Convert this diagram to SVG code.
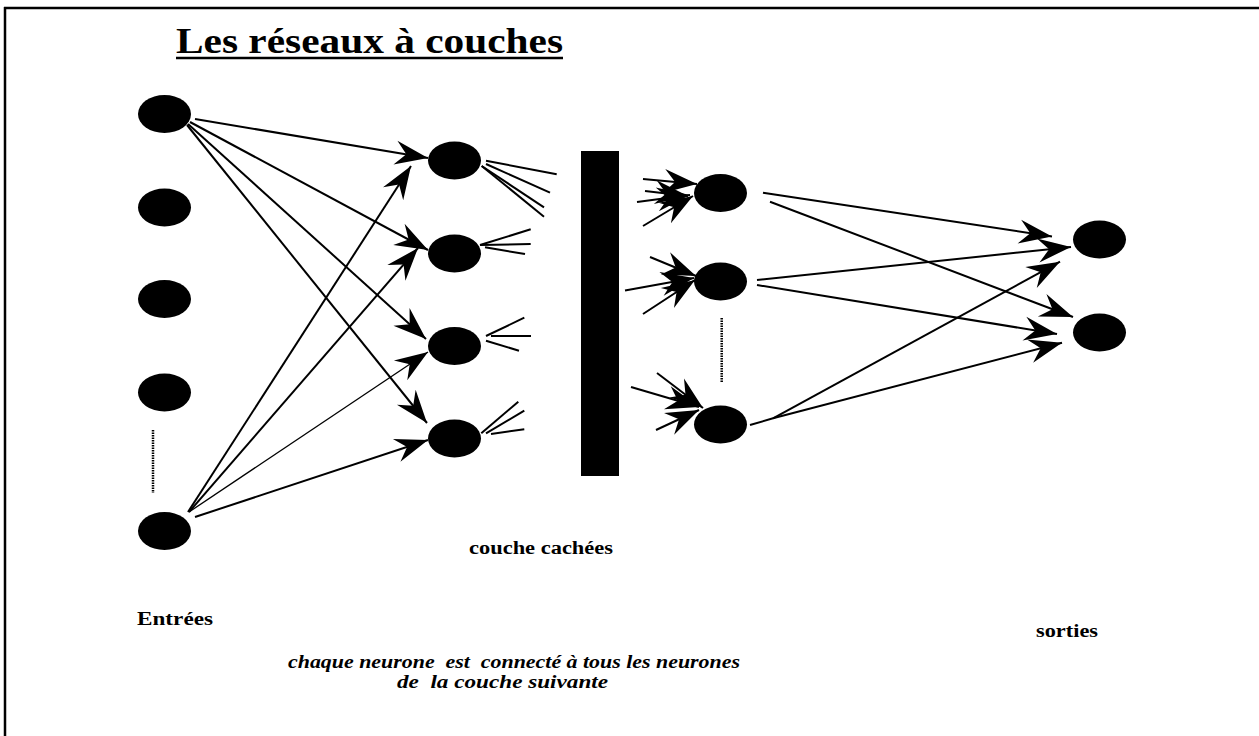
<svg xmlns="http://www.w3.org/2000/svg" width="1259" height="736" viewBox="0 0 1259 736">
<style>
.n{fill:#000}
.c{stroke:#000;stroke-width:2;fill:none}
.t{stroke-width:1.3}
.a{marker-end:url(#ah)}
.dot{stroke:#000;stroke-width:2.5;stroke-dasharray:1.5 1;fill:none}
.lbl{font-family:"Liberation Serif","Times New Roman",serif;font-weight:bold;fill:#000}
.it{font-style:italic}
</style>
<defs>
<marker id="ah" viewBox="-36 -14 38 28" refX="0" refY="0" markerWidth="38" markerHeight="28" markerUnits="userSpaceOnUse" orient="auto">
<path d="M0,0 L-33,-12 L-22,0 L-33,12 Z" fill="#000"/>
</marker>
</defs>
<rect width="1259" height="736" fill="#fff"/>
<g id="frame">
<line x1="4" y1="8" x2="1259" y2="8" stroke="#000" stroke-width="2.5"/>
<line x1="5" y1="7" x2="5" y2="736" stroke="#000" stroke-width="2.5"/>
</g>
<g id="title">
<text class="lbl" x="176" y="53" font-size="36" textLength="387" lengthAdjust="spacingAndGlyphs">Les réseaux à couches</text>
<line x1="176" y1="58" x2="563" y2="58" stroke="#000" stroke-width="2.5"/>
</g>
<g id="connectors">
<line class="c a" x1="195" y1="119" x2="428" y2="158"/>
<line class="c a" x1="190" y1="122" x2="428" y2="250"/>
<line class="c a" x1="188" y1="124" x2="426" y2="339"/>
<line class="c a" x1="187" y1="125" x2="427" y2="423"/>
<line class="c a" x1="188" y1="512" x2="411" y2="166"/>
<line class="c a" x1="189" y1="512" x2="418" y2="248"/>
<line class="c t a" x1="189" y1="512" x2="428" y2="352"/>
<line class="c a" x1="195" y1="517" x2="428" y2="440"/>
<line class="c" x1="486" y1="160.7" x2="556.7" y2="174.3"/>
<line class="c" x1="486" y1="164" x2="550" y2="192.7"/>
<line class="c" x1="481.7" y1="166" x2="544" y2="207.3"/>
<line class="c" x1="481.7" y1="166" x2="544" y2="216.7"/>
<line class="c" x1="480" y1="245" x2="530.7" y2="229.3"/>
<line class="c" x1="480" y1="245" x2="530.7" y2="244"/>
<line class="c" x1="485" y1="247.3" x2="525" y2="254"/>
<line class="c" x1="486" y1="336" x2="524.3" y2="317.7"/>
<line class="c" x1="491" y1="336" x2="531" y2="336"/>
<line class="c" x1="486" y1="340.7" x2="519" y2="350.7"/>
<line class="c" x1="481.3" y1="433.3" x2="518.3" y2="401.7"/>
<line class="c" x1="486" y1="433.3" x2="524.3" y2="410.7"/>
<line class="c" x1="491" y1="434" x2="524.3" y2="429.3"/>
<line class="c a" x1="643" y1="179" x2="697" y2="184"/>
<line class="c a" x1="645" y1="191" x2="688" y2="196"/>
<line class="c a" x1="637" y1="202" x2="690" y2="195"/>
<line class="c a" x1="643" y1="226" x2="693" y2="196"/>
<line class="c a" x1="650" y1="257" x2="696" y2="276"/>
<line class="c a" x1="625" y1="290.5" x2="694" y2="278"/>
<line class="c a" x1="643" y1="314" x2="695" y2="280"/>
<line class="c a" x1="657" y1="373" x2="703" y2="408"/>
<line class="c a" x1="631" y1="387" x2="699" y2="407"/>
<line class="c a" x1="656" y1="430" x2="699" y2="410"/>
<line class="c a" x1="763" y1="192.7" x2="1052" y2="236.5"/>
<line class="c a" x1="770" y1="201.7" x2="1073" y2="317"/>
<line class="c a" x1="757" y1="280" x2="1071" y2="247"/>
<line class="c a" x1="757" y1="285" x2="1057" y2="334"/>
<polyline class="c" points="750,425 773,418.3"/>
<line class="c a" x1="773" y1="418.3" x2="1060" y2="261.7"/>
<line class="c a" x1="773" y1="418.3" x2="1062" y2="342.7"/>
</g>
<g id="inputs">
<ellipse id="in1" class="n" cx="164.5" cy="114" rx="26.5" ry="19"/>
<ellipse id="in2" class="n" cx="164.5" cy="207.5" rx="26.5" ry="19"/>
<ellipse id="in3" class="n" cx="164.5" cy="299" rx="26.5" ry="19"/>
<ellipse id="in4" class="n" cx="164.5" cy="392.5" rx="26.5" ry="19"/>
<line id="in-dots" class="dot" x1="153" y1="430" x2="153" y2="493"/>
<ellipse id="in5" class="n" cx="164.5" cy="531" rx="26.5" ry="19"/>
</g>
<g id="hidden1">
<ellipse id="h1a" class="n" cx="454.5" cy="160.5" rx="26.5" ry="19"/>
<ellipse id="h1b" class="n" cx="454.5" cy="253.5" rx="26.5" ry="19"/>
<ellipse id="h1c" class="n" cx="454.5" cy="346" rx="26.5" ry="19"/>
<ellipse id="h1d" class="n" cx="454.5" cy="438.5" rx="26.5" ry="19"/>
</g>
<g id="bar">
<rect x="581" y="151" width="38" height="325" fill="#000"/>
</g>
<g id="hidden2">
<ellipse id="h2a" class="n" cx="720.5" cy="193" rx="26.5" ry="19"/>
<ellipse id="h2b" class="n" cx="720.5" cy="281.5" rx="26.5" ry="19"/>
<line id="h2-dots" class="dot" x1="721.7" y1="318" x2="721.7" y2="382"/>
<ellipse id="h2c" class="n" cx="720.5" cy="424.5" rx="26.5" ry="19"/>
</g>
<g id="outputs">
<ellipse id="out1" class="n" cx="1099.5" cy="239.5" rx="26.5" ry="19"/>
<ellipse id="out2" class="n" cx="1099.5" cy="332.5" rx="26.5" ry="19"/>
</g>
<g id="labels">
<text class="lbl" x="469" y="554" font-size="18" textLength="144" lengthAdjust="spacingAndGlyphs">couche cachées</text>
<text class="lbl" x="137" y="625" font-size="18" textLength="76" lengthAdjust="spacingAndGlyphs">Entrées</text>
<text class="lbl" x="1036" y="637" font-size="18" textLength="62" lengthAdjust="spacingAndGlyphs">sorties</text>
<text class="lbl it" x="288" y="668" font-size="18" textLength="452" lengthAdjust="spacingAndGlyphs" xml:space="preserve">chaque neurone  est  connecté à tous les neurones</text>
<text class="lbl it" x="397" y="688" font-size="18" textLength="211" lengthAdjust="spacingAndGlyphs" xml:space="preserve">de  la couche suivante</text>
</g>
</svg>
